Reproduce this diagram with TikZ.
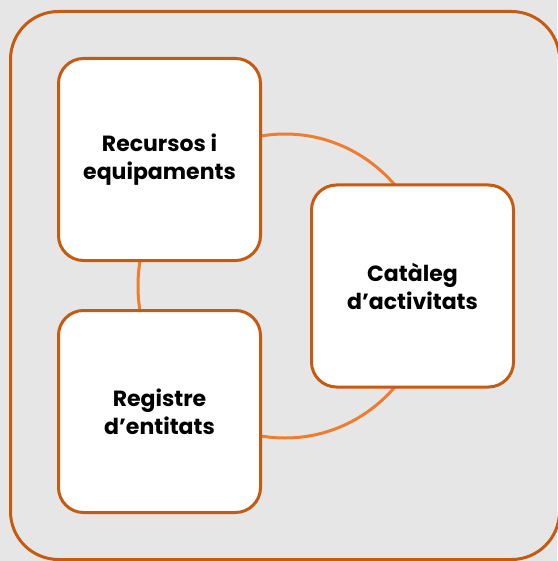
\documentclass[tikz,border=0pt]{standalone}
\usepackage{fontspec}
\setmainfont{Poppins}
\definecolor{bggray}{HTML}{E7E6E6}
\definecolor{darkorange}{HTML}{C55A11}
\definecolor{lightorange}{HTML}{ED7D31}

\begin{document}
\begin{tikzpicture}[x=1pt,y=-1pt,
    block/.style={draw=darkorange, line width=3pt, fill=white, rounded corners=25pt,
      minimum width=202pt, minimum height=202pt, inner sep=0pt, align=center,
      font=\bfseries\fontsize{22}{28}\selectfont}]
    \fill[bggray] (0,0) rectangle (557,561);
    \useasboundingbox (0,0) rectangle (557,561);
    % frame and ring behind the blocks
    \draw[darkorange, line width=3pt, rounded corners=48pt] (10.5,11.5) rectangle (559.5,559.5);
    \draw[lightorange, line width=3pt] (285,286) ellipse [x radius=147, y radius=152];
    \node[block] (recursos) at (159.5,159.5) {Recursos i\\equipaments};
    \node[block] (cataleg) at (412.5,286) {Catàleg\\d’activitats};
    \node[block] (registre) at (159.5,411.5) {Registre\\d’entitats};
\end{tikzpicture}
\end{document}
